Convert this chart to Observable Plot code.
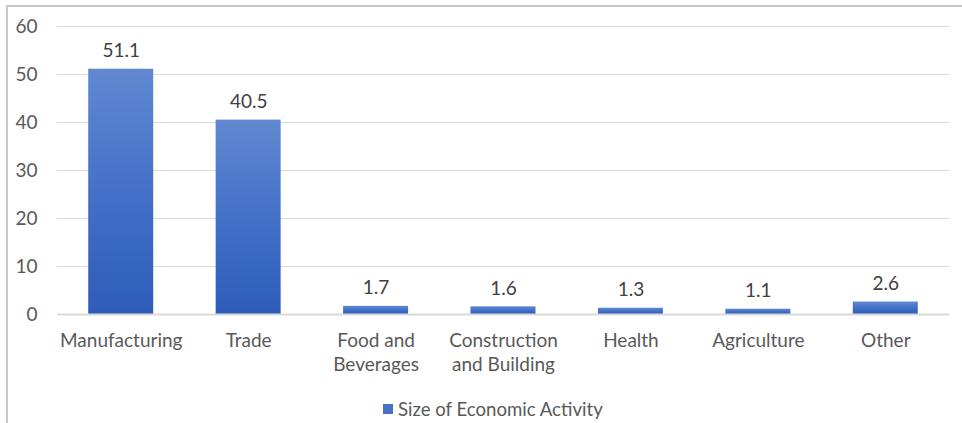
<!DOCTYPE html>
<html>
<head>
<meta charset="utf-8">
<script src="https://cdn.jsdelivr.net/npm/d3@7"></script>
<script src="https://cdn.jsdelivr.net/npm/@observablehq/plot@0.6"></script>
<style>
  html, body { margin: 0; padding: 0; background: #fff; overflow: hidden; }
  body { width: 962px; height: 423px; position: relative; font-family: Lato, "Open Sans", sans-serif; }
  #frame { position: absolute; left: 6px; top: 5px; width: 1200px; height: 1200px;
           border-left: 2px solid #c6c6c6; border-top: 2px solid #c6c6c6; box-sizing: border-box; }
  #chart { position: absolute; left: 0; top: 0; }
  #legend { position: absolute; left: 383px; top: 398px; font-size: 18.6px; color: #595959;
            display: flex; align-items: center; white-space: nowrap; }
  #legend .sw { width: 10px; height: 10px; background: #4472c4; margin-right: 5px; }
</style>
</head>
<body>
<div id="frame"></div>
<div id="chart"></div>
<div id="legend"><span class="sw"></span><span>Size of Economic Activity</span></div>
<script>
const categories = ["Manufacturing", "Trade", "Food and\nBeverages", "Construction\nand Building", "Health", "Agriculture", "Other"];
const values = [51.1, 40.5, 1.7, 1.6, 1.3, 1.1, 2.6];
const yTicks = [0, 10, 20, 30, 40, 50, 60];
const seriesName = "Size of Economic Activity";

const data = categories.map((c, i) => ({category: c, value: values[i]}));

function gradientDefs() {
  const ns = "http://www.w3.org/2000/svg";
  const defs = document.createElementNS(ns, "defs");
  const lg = document.createElementNS(ns, "linearGradient");
  lg.setAttribute("id", "barGrad");
  lg.setAttribute("x1", "0"); lg.setAttribute("y1", "0");
  lg.setAttribute("x2", "0"); lg.setAttribute("y2", "1");
  [["0%", "#6189d2"], ["50%", "#4371c8"], ["100%", "#2d5db9"]].forEach(([o, c]) => {
    const s = document.createElementNS(ns, "stop");
    s.setAttribute("offset", o); s.setAttribute("stop-color", c);
    lg.appendChild(s);
  });
  defs.appendChild(lg);
  return defs;
}

const chart = Plot.plot({
  width: 962,
  height: 390,
  marginLeft: 57,
  marginRight: 13,
  marginTop: 26,
  marginBottom: 76,
  style: { fontFamily: "Lato, 'Open Sans', sans-serif", fontSize: "19px", color: "#595959", background: "transparent" },
  x: { domain: categories, paddingInner: 0.49, paddingOuter: 0.245, round: false, label: null },
  y: { domain: [0, 60], ticks: yTicks, label: null },
  marks: [
    gradientDefs,
    Plot.gridY(yTicks.filter(d => d !== 0), { stroke: "#d9d9d9", strokeOpacity: 1, strokeWidth: 1.2 }),
    Plot.barY(data, { x: "category", y: "value", fill: "url(#barGrad)" }),
    Plot.ruleY([0], { stroke: "#d9d9d9", strokeWidth: 2.2 }),
    Plot.text(data, { x: "category", y: "value", text: d => d.value.toFixed(1), lineAnchor: "bottom", dy: -12, fill: "#404040", fontSize: 19 }),
    Plot.axisY({ ticks: yTicks, tickSize: 0, tickPadding: 20, label: null, fill: "#595959" }),
    Plot.axisX({ tickSize: 0, tickPadding: 15, lineHeight: 1.27, label: null, fill: "#595959" })
  ]
});
document.getElementById("chart").appendChild(chart);
</script>
</body>
</html>
